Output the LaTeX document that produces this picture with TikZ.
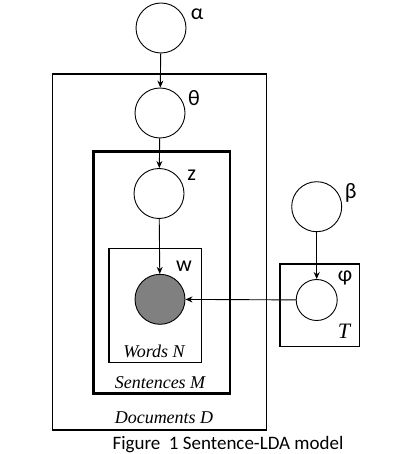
\documentclass[tikz,border=0pt]{standalone}
\usepackage{fontspec}
\setmainfont{Carlito}
\newfontfamily\serifit{Liberation Serif}
\usetikzlibrary{arrows.meta}
\begin{document}
\begin{tikzpicture}[x=1pt,y=-1pt,
  var/.style={circle,draw,line width=0.9pt,inner sep=0pt,minimum size=50pt},
  obs/.style={var,fill=black!50},
  plate/.style={draw,line width=1.3pt},
  thickplate/.style={draw,line width=2.8pt},
  lbl/.style={font=\fontsize{22}{22}\selectfont,inner sep=0pt},
  platelbl/.style={font=\fontsize{18}{18}\serifit\itshape,inner sep=0pt},
  edge/.style={draw,line width=0.9pt,-{Stealth[length=7pt,width=6pt]}}]
\useasboundingbox (0,0) rectangle (400,454);
\draw[plate] (52.7,74) rectangle (266.7,430);
\draw[thickplate] (93.3,151.7) rectangle (230,393.3);
\draw[plate] (109,248.3) rectangle (201.7,362.7);
\draw[plate] (280,264) rectangle (359.3,346.7);
\node[var] (alpha) at (161,28) {};
\node[var] (theta) at (160,113) {};
\node[var] (z) at (159,193.5) {};
\node[obs] (w) at (160,299.3) {};
\node[var] (beta) at (316.7,206.7) {};
\node[var,minimum size=41pt] (phi) at (316.7,300) {};
\node[lbl] (la) at (197,14) {α};
\node[lbl] (lt) at (194,98) {θ};
\node[lbl] (lz) at (191.7,175) {z};
\node[lbl] (lw) at (184,266) {w};
\node[lbl] (lb) at (350.7,193) {β};
\node[lbl] (lp) at (345,278) {φ};
\node[platelbl,font=\fontsize{22}{22}\serifit\itshape] (lT) at (344,331.7) {T};
\node[platelbl] (lwords) at (154,351.7) {Words N};
\node[platelbl] (lsent) at (160,382.7) {Sentences M};
\node[platelbl] (ldoc) at (164,418) {Documents D};
\node[font=\fontsize{19}{19}\selectfont,inner sep=0pt] (cap) at (228,445) {Figure\ \ 1 Sentence-LDA model};
\draw[edge] (alpha) -- (theta);
\draw[edge] (theta) -- (z);
\draw[edge] (z) -- (w);
\draw[edge] (beta) -- (phi);
\draw[edge] (phi) -- (w);
\end{tikzpicture}
\end{document}
